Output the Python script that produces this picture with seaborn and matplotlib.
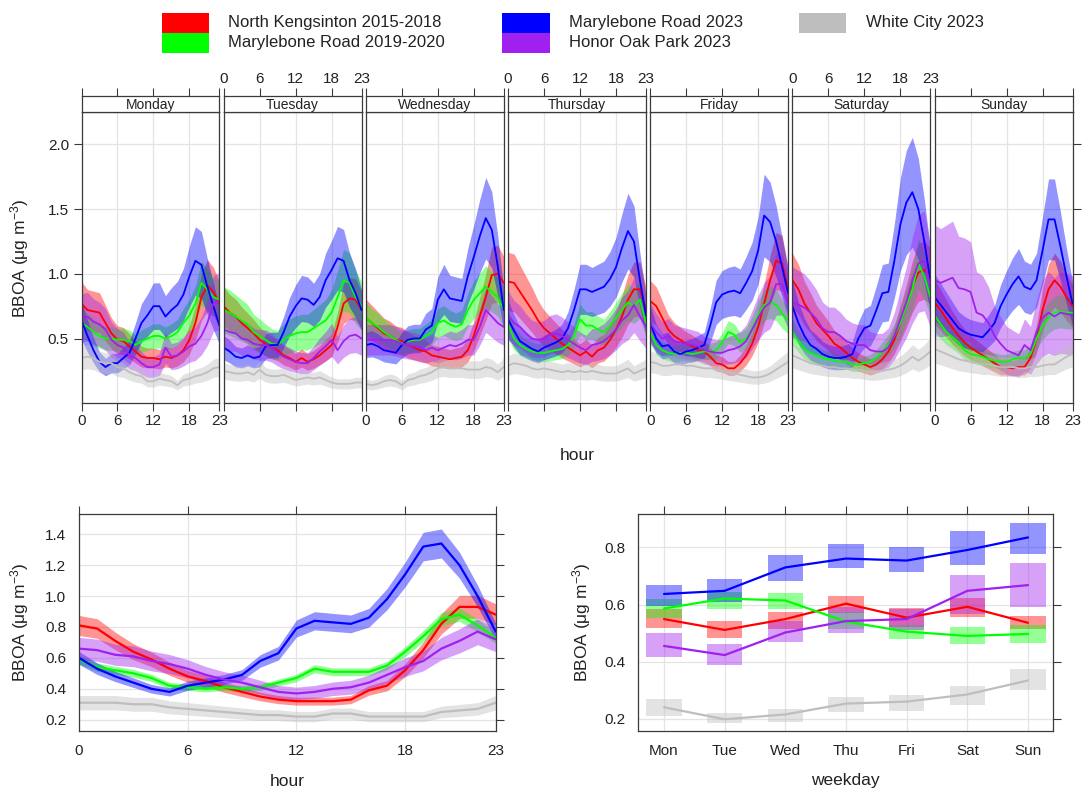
import numpy as np
import pandas as pd
import matplotlib
matplotlib.use("Agg")
import matplotlib.pyplot as plt
from matplotlib.patches import Rectangle
import seaborn as sns

# ---------------------------------------------------------------- data
sites = ["North Kengsinton 2015-2018", "Marylebone Road 2019-2020",
         "Marylebone Road 2023", "Honor Oak Park 2023", "White City 2023"]
colours = ["#FF0000", "#00FF00", "#0000FF", "#A020F0", "#BEBEBE"]
days = ["Monday", "Tuesday", "Wednesday", "Thursday", "Friday", "Saturday", "Sunday"]
day_abbr = ["Mon", "Tue", "Wed", "Thu", "Fri", "Sat", "Sun"]
hours = list(range(24))
hour_ticks = [0, 6, 12, 18, 23]

# hourly means for each weekday (Mon..Sun), BBOA ug m-3
nk_week = [
    [0.77, 0.72, 0.71, 0.70, 0.62, 0.54, 0.49, 0.48, 0.44, 0.40, 0.36, 0.35, 0.35, 0.34, 0.36, 0.35, 0.37, 0.41, 0.49, 0.62, 0.82, 0.91, 0.86, 0.77],
    [0.75, 0.70, 0.67, 0.62, 0.58, 0.54, 0.49, 0.46, 0.43, 0.41, 0.37, 0.35, 0.32, 0.35, 0.32, 0.34, 0.37, 0.41, 0.45, 0.59, 0.77, 0.81, 0.80, 0.72],
    [0.66, 0.62, 0.58, 0.54, 0.52, 0.49, 0.48, 0.45, 0.43, 0.41, 0.40, 0.37, 0.36, 0.35, 0.34, 0.35, 0.36, 0.41, 0.52, 0.67, 0.82, 0.99, 1.00, 0.93],
    [0.94, 0.93, 0.86, 0.79, 0.72, 0.64, 0.58, 0.54, 0.50, 0.46, 0.43, 0.40, 0.37, 0.40, 0.36, 0.41, 0.43, 0.49, 0.57, 0.67, 0.80, 0.88, 0.88, 0.72],
    [0.79, 0.75, 0.66, 0.57, 0.52, 0.49, 0.46, 0.44, 0.41, 0.40, 0.36, 0.31, 0.30, 0.27, 0.27, 0.31, 0.37, 0.46, 0.59, 0.77, 0.95, 1.10, 1.08, 0.88],
    [0.95, 0.88, 0.77, 0.70, 0.62, 0.57, 0.52, 0.46, 0.43, 0.39, 0.35, 0.32, 0.30, 0.28, 0.30, 0.34, 0.40, 0.49, 0.62, 0.75, 0.90, 1.01, 1.03, 0.98],
    [0.78, 0.72, 0.65, 0.58, 0.52, 0.47, 0.43, 0.40, 0.37, 0.34, 0.31, 0.28, 0.28, 0.27, 0.28, 0.28, 0.35, 0.50, 0.72, 0.88, 0.95, 0.90, 0.82, 0.75],
]
mr1920_week = [
    [0.62, 0.59, 0.55, 0.52, 0.50, 0.50, 0.49, 0.49, 0.48, 0.45, 0.48, 0.50, 0.52, 0.52, 0.50, 0.52, 0.55, 0.62, 0.68, 0.77, 0.93, 0.88, 0.82, 0.80],
    [0.72, 0.70, 0.67, 0.64, 0.61, 0.55, 0.52, 0.49, 0.46, 0.45, 0.49, 0.52, 0.54, 0.55, 0.55, 0.58, 0.61, 0.64, 0.70, 0.82, 0.95, 0.93, 0.82, 0.75],
    [0.66, 0.62, 0.59, 0.55, 0.52, 0.49, 0.46, 0.48, 0.49, 0.49, 0.52, 0.55, 0.62, 0.64, 0.61, 0.59, 0.61, 0.72, 0.80, 0.85, 0.90, 0.86, 0.82, 0.72],
    [0.61, 0.50, 0.45, 0.42, 0.40, 0.39, 0.39, 0.40, 0.41, 0.42, 0.45, 0.52, 0.65, 0.60, 0.60, 0.57, 0.55, 0.60, 0.66, 0.72, 0.78, 0.75, 0.80, 0.62],
    [0.55, 0.45, 0.41, 0.39, 0.38, 0.39, 0.39, 0.38, 0.39, 0.40, 0.40, 0.41, 0.47, 0.55, 0.53, 0.47, 0.50, 0.58, 0.68, 0.76, 0.78, 0.76, 0.69, 0.64],
    [0.55, 0.48, 0.42, 0.39, 0.37, 0.35, 0.34, 0.33, 0.32, 0.32, 0.30, 0.30, 0.31, 0.32, 0.35, 0.40, 0.45, 0.52, 0.62, 0.75, 0.88, 1.08, 0.98, 0.82],
    [0.68, 0.61, 0.55, 0.51, 0.47, 0.41, 0.38, 0.37, 0.36, 0.34, 0.33, 0.32, 0.32, 0.34, 0.35, 0.35, 0.38, 0.50, 0.60, 0.66, 0.70, 0.71, 0.70, 0.70],
]
mr23_week = [
    [0.64, 0.52, 0.41, 0.32, 0.28, 0.31, 0.31, 0.35, 0.39, 0.50, 0.62, 0.68, 0.75, 0.75, 0.67, 0.72, 0.76, 0.84, 0.98, 1.10, 1.07, 0.90, 0.75, 0.60],
    [0.43, 0.40, 0.36, 0.35, 0.37, 0.35, 0.36, 0.44, 0.45, 0.45, 0.55, 0.67, 0.75, 0.81, 0.80, 0.76, 0.82, 0.95, 1.03, 1.12, 1.10, 0.95, 0.85, 0.72],
    [0.45, 0.46, 0.44, 0.41, 0.40, 0.39, 0.45, 0.49, 0.50, 0.50, 0.57, 0.60, 0.80, 0.88, 0.81, 0.80, 0.79, 0.98, 1.13, 1.29, 1.43, 1.34, 1.06, 0.72],
    [0.65, 0.56, 0.48, 0.45, 0.42, 0.40, 0.43, 0.45, 0.47, 0.50, 0.58, 0.72, 0.88, 0.88, 0.86, 0.88, 0.90, 0.96, 1.05, 1.20, 1.33, 1.25, 0.95, 0.68],
    [0.62, 0.50, 0.44, 0.45, 0.40, 0.38, 0.40, 0.41, 0.43, 0.45, 0.60, 0.78, 0.84, 0.86, 0.87, 0.85, 0.93, 1.02, 1.18, 1.45, 1.40, 1.25, 1.05, 0.85],
    [0.75, 0.62, 0.52, 0.45, 0.42, 0.38, 0.36, 0.35, 0.35, 0.36, 0.38, 0.50, 0.58, 0.60, 0.72, 0.85, 0.86, 1.10, 1.38, 1.55, 1.63, 1.50, 1.25, 0.95],
    [0.82, 0.76, 0.70, 0.64, 0.58, 0.55, 0.53, 0.52, 0.51, 0.56, 0.62, 0.75, 0.84, 0.92, 0.98, 0.90, 0.88, 0.95, 1.18, 1.42, 1.42, 1.21, 0.98, 0.77],
]
hop_week = [
    [0.66, 0.67, 0.63, 0.61, 0.57, 0.49, 0.45, 0.43, 0.37, 0.35, 0.31, 0.28, 0.28, 0.30, 0.43, 0.36, 0.37, 0.40, 0.44, 0.46, 0.52, 0.62, 0.77, 0.79],
    [0.57, 0.55, 0.54, 0.50, 0.49, 0.46, 0.45, 0.45, 0.43, 0.39, 0.36, 0.34, 0.32, 0.31, 0.31, 0.35, 0.40, 0.44, 0.49, 0.41, 0.48, 0.52, 0.53, 0.50],
    [0.49, 0.49, 0.49, 0.49, 0.49, 0.48, 0.46, 0.45, 0.44, 0.43, 0.41, 0.43, 0.41, 0.43, 0.45, 0.44, 0.46, 0.49, 0.49, 0.59, 0.72, 0.67, 0.62, 0.59],
    [0.68, 0.62, 0.59, 0.54, 0.50, 0.49, 0.50, 0.53, 0.54, 0.52, 0.49, 0.46, 0.43, 0.41, 0.45, 0.46, 0.48, 0.52, 0.57, 0.64, 0.68, 0.76, 0.67, 0.59],
    [0.62, 0.55, 0.50, 0.52, 0.48, 0.47, 0.46, 0.45, 0.44, 0.41, 0.40, 0.39, 0.39, 0.41, 0.42, 0.44, 0.48, 0.57, 0.66, 0.74, 0.78, 0.92, 0.92, 0.78],
    [0.78, 0.76, 0.74, 0.70, 0.65, 0.58, 0.55, 0.55, 0.52, 0.48, 0.46, 0.45, 0.45, 0.41, 0.40, 0.40, 0.43, 0.52, 0.65, 0.78, 0.95, 1.08, 1.10, 0.90],
    [0.95, 0.93, 0.95, 0.97, 0.89, 0.88, 0.86, 0.70, 0.68, 0.62, 0.52, 0.46, 0.41, 0.39, 0.37, 0.45, 0.41, 0.55, 0.66, 0.70, 0.67, 0.70, 0.69, 0.68],
]
wc_week = [
    [0.35, 0.36, 0.35, 0.32, 0.31, 0.31, 0.28, 0.27, 0.24, 0.22, 0.21, 0.17, 0.17, 0.19, 0.18, 0.17, 0.14, 0.18, 0.19, 0.21, 0.22, 0.24, 0.27, 0.28],
    [0.25, 0.24, 0.23, 0.23, 0.24, 0.22, 0.26, 0.22, 0.21, 0.21, 0.22, 0.20, 0.18, 0.19, 0.20, 0.19, 0.20, 0.18, 0.16, 0.15, 0.15, 0.15, 0.16, 0.16],
    [0.15, 0.14, 0.15, 0.17, 0.18, 0.17, 0.14, 0.18, 0.19, 0.21, 0.22, 0.24, 0.27, 0.28, 0.27, 0.27, 0.27, 0.26, 0.26, 0.26, 0.28, 0.27, 0.24, 0.28],
    [0.29, 0.31, 0.30, 0.29, 0.27, 0.26, 0.27, 0.26, 0.25, 0.24, 0.25, 0.24, 0.25, 0.24, 0.25, 0.24, 0.23, 0.23, 0.23, 0.25, 0.27, 0.23, 0.25, 0.27],
    [0.32, 0.31, 0.29, 0.29, 0.30, 0.30, 0.29, 0.29, 0.28, 0.27, 0.27, 0.26, 0.25, 0.24, 0.23, 0.22, 0.21, 0.20, 0.20, 0.21, 0.23, 0.26, 0.29, 0.32],
    [0.37, 0.35, 0.33, 0.31, 0.30, 0.29, 0.28, 0.28, 0.27, 0.27, 0.26, 0.26, 0.25, 0.24, 0.24, 0.25, 0.26, 0.27, 0.29, 0.32, 0.36, 0.33, 0.36, 0.40],
    [0.42, 0.40, 0.38, 0.36, 0.34, 0.33, 0.32, 0.31, 0.30, 0.30, 0.29, 0.28, 0.28, 0.28, 0.27, 0.27, 0.28, 0.28, 0.29, 0.30, 0.30, 0.33, 0.36, 0.38],
]
# relative half-width of the 95% confidence band, per site and weekday
week_band_frac = [
    [0.22, 0.20, 0.22, 0.24, 0.20, 0.22, 0.22],
    [0.18, 0.25, 0.18, 0.18, 0.16, 0.18, 0.18],
    [0.24, 0.22, 0.22, 0.22, 0.22, 0.26, 0.22],
    [0.28, 0.26, 0.24, 0.28, 0.26, 0.35, 0.45],
    [0.26, 0.26, 0.26, 0.26, 0.26, 0.26, 0.26],
]

# mean diurnal profile (all days)
nk_hour = [0.81, 0.79, 0.71, 0.64, 0.59, 0.53, 0.48, 0.45, 0.41, 0.38, 0.35, 0.33, 0.32, 0.32, 0.32, 0.33, 0.39, 0.42, 0.52, 0.65, 0.82, 0.93, 0.93, 0.88]
mr1920_hour = [0.59, 0.54, 0.52, 0.50, 0.47, 0.42, 0.41, 0.40, 0.41, 0.40, 0.41, 0.44, 0.47, 0.53, 0.51, 0.51, 0.51, 0.55, 0.64, 0.74, 0.85, 0.88, 0.81, 0.73]
mr23_hour = [0.60, 0.53, 0.48, 0.44, 0.40, 0.38, 0.42, 0.44, 0.46, 0.49, 0.58, 0.63, 0.79, 0.84, 0.83, 0.82, 0.86, 0.98, 1.14, 1.32, 1.34, 1.20, 1.00, 0.77]
hop_hour = [0.66, 0.65, 0.62, 0.61, 0.58, 0.56, 0.53, 0.49, 0.46, 0.44, 0.41, 0.38, 0.37, 0.38, 0.40, 0.41, 0.44, 0.49, 0.54, 0.58, 0.66, 0.71, 0.77, 0.72]
wc_hour = [0.31, 0.31, 0.31, 0.30, 0.30, 0.28, 0.27, 0.26, 0.25, 0.24, 0.23, 0.23, 0.22, 0.22, 0.24, 0.24, 0.22, 0.22, 0.22, 0.22, 0.25, 0.26, 0.27, 0.31]
hour_band_frac = [0.08, 0.05, 0.07, 0.11, 0.15]

# weekday means with 95% confidence intervals
nk_day = [0.549, 0.511, 0.549, 0.603, 0.554, 0.592, 0.536]
nk_day_lo = [0.519, 0.484, 0.516, 0.569, 0.522, 0.557, 0.513]
nk_day_hi = [0.586, 0.541, 0.575, 0.630, 0.588, 0.624, 0.560]
mr1920_day = [0.586, 0.621, 0.614, 0.540, 0.505, 0.490, 0.497]
mr1920_day_lo = [0.554, 0.583, 0.586, 0.516, 0.480, 0.463, 0.466]
mr1920_day_hi = [0.621, 0.645, 0.641, 0.575, 0.528, 0.520, 0.528]
mr23_day = [0.637, 0.648, 0.730, 0.761, 0.754, 0.791, 0.835]
mr23_day_lo = [0.596, 0.610, 0.683, 0.728, 0.714, 0.738, 0.778]
mr23_day_hi = [0.670, 0.691, 0.772, 0.811, 0.800, 0.858, 0.884]
hop_day = [0.455, 0.423, 0.502, 0.542, 0.549, 0.648, 0.668]
hop_day_lo = [0.415, 0.389, 0.470, 0.502, 0.510, 0.567, 0.591]
hop_day_hi = [0.499, 0.463, 0.543, 0.592, 0.586, 0.703, 0.746]
wc_day = [0.240, 0.198, 0.215, 0.253, 0.260, 0.285, 0.334]
wc_day_lo = [0.209, 0.184, 0.190, 0.225, 0.228, 0.247, 0.300]
wc_day_hi = [0.268, 0.221, 0.234, 0.277, 0.283, 0.314, 0.373]

# ---------------------------------------------------------------- tables
week_sets = [nk_week, mr1920_week, mr23_week, hop_week, wc_week]
hour_sets = [nk_hour, mr1920_hour, mr23_hour, hop_hour, wc_hour]
day_sets = [(nk_day, nk_day_lo, nk_day_hi), (mr1920_day, mr1920_day_lo, mr1920_day_hi),
            (mr23_day, mr23_day_lo, mr23_day_hi), (hop_day, hop_day_lo, hop_day_hi),
            (wc_day, wc_day_lo, wc_day_hi)]

rows = []
for s, site in enumerate(sites):
    for d, day in enumerate(days):
        for h in hours:
            m = week_sets[s][d][h]
            f = week_band_frac[s][d]
            rows.append(dict(site=site, day=day, hour=h, value=m, lo=m * (1 - f), hi=m * (1 + f)))
week_df = pd.DataFrame(rows)

rows = []
for s, site in enumerate(sites):
    for h in hours:
        m = hour_sets[s][h]
        f = hour_band_frac[s]
        rows.append(dict(site=site, hour=h, value=m, lo=m * (1 - f), hi=m * (1 + f)))
hour_df = pd.DataFrame(rows)

rows = []
for s, site in enumerate(sites):
    mean, lo, hi = day_sets[s]
    for d in range(7):
        rows.append(dict(site=site, weekday=d, value=mean[d], lo=lo[d], hi=hi[d]))
day_df = pd.DataFrame(rows)

# ---------------------------------------------------------------- style
sns.set_theme(style="white")
plt.rcParams["font.family"] = ["Liberation Sans", "DejaVu Sans"]
plt.rcParams["mathtext.default"] = "regular"
plt.rcParams["axes.edgecolor"] = "#3A3A3A"
plt.rcParams["axes.linewidth"] = 0.9

W, H = 1082, 791
fig = plt.figure(figsize=(W / 100, H / 100), dpi=100)
fig.patch.set_facecolor("white")


def box(x0, y0, x1, y1):
    return [x0 / W, 1 - y1 / H, (x1 - x0) / W, (y1 - y0) / H]


GRID = "#E4E4E4"
TICK = dict(direction="out", length=5.5, width=0.8, color="#3A3A3A", labelsize=11,
            labelcolor="#222222")
ALPHA = 0.42
ylab = "BBOA (μg m$^{-3}$)"

# ---------------------------------------------------------------- top: hour x weekday
left0, right0, gap = 81.5, 1072.5, 4.3
pw = (right0 - left0 - 6 * gap) / 7
top_y0, top_y1, strip_y0 = 112.3, 403.3, 96.0

for d, day in enumerate(days):
    x0 = left0 + d * (pw + gap)
    ax = fig.add_axes(box(x0, top_y0, x0 + pw, top_y1))
    sub = week_df[week_df.day == day]
    for s, site in enumerate(sites):
        ss = sub[sub.site == site]
        ax.fill_between(ss.hour, ss.lo, ss.hi, color=colours[s], alpha=ALPHA, lw=0)
        sns.lineplot(data=ss, x="hour", y="value", color=colours[s], lw=1.3, ax=ax,
                     legend=False, errorbar=None)
    ax.set_xlim(0, 23)
    ax.set_ylim(0.0, 2.247)
    ax.set_xticks(hour_ticks)
    ax.set_yticks([0.5, 1.0, 1.5, 2.0])
    ax.set_yticklabels(["0.5", "1.0", "1.5", "2.0"])
    ax.grid(True, color=GRID, lw=0.9)
    ax.set_axisbelow(True)
    ax.set_xlabel("")
    ax.set_ylabel("")
    ax.tick_params(**TICK)
    ax.tick_params(axis="x", top=False, bottom=True, labelbottom=(d % 2 == 0), pad=2)
    ax.tick_params(axis="y", left=(d == 0), labelleft=(d == 0), right=(d == 6),
                   labelright=False)

    strip = fig.add_axes(box(x0, strip_y0, x0 + pw, top_y0))
    strip.set_xlim(0, 23)
    strip.set_xticks(hour_ticks)
    strip.set_yticks([])
    strip.tick_params(**TICK)
    strip.tick_params(axis="x", top=True, bottom=False, labeltop=(d % 2 == 1),
                      labelbottom=False, pad=2)
    strip.text(0.5, 0.45, day, transform=strip.transAxes, ha="center", va="center",
               fontsize=10, color="#222222")

fig.text((left0 + right0) / 2 / W, 1 - 455 / H, "hour", ha="center", va="center",
         fontsize=12.5, color="#222222")
fig.text(20 / W, 1 - 258 / H, ylab, rotation=90, ha="center", va="center",
         fontsize=12.5, color="#222222")

# ---------------------------------------------------------------- bottom left: hour
axh = fig.add_axes(box(79, 514.3, 495.7, 731))
for s, site in enumerate(sites):
    ss = hour_df[hour_df.site == site]
    axh.fill_between(ss.hour, ss.lo, ss.hi, color=colours[s], alpha=ALPHA, lw=0)
    sns.lineplot(data=ss, x="hour", y="value", color=colours[s], lw=1.6, ax=axh,
                 legend=False, errorbar=None)
axh.set_xlim(0, 23)
axh.set_ylim(0.127, 1.529)
axh.set_xticks(hour_ticks)
axh.set_yticks([0.2, 0.4, 0.6, 0.8, 1.0, 1.2, 1.4])
axh.set_yticklabels(["0.2", "0.4", "0.6", "0.8", "1.0", "1.2", "1.4"])
axh.grid(True, color=GRID, lw=0.9)
axh.set_axisbelow(True)
axh.set_xlabel("")
axh.set_ylabel("")
axh.tick_params(**TICK)
axh.tick_params(axis="x", top=True, labeltop=False, pad=4)
axh.tick_params(axis="y", right=True, labelright=False)
fig.text(287 / W, 1 - 781 / H, "hour", ha="center", va="center", fontsize=12.5,
         color="#222222")
fig.text(20 / W, 1 - 622 / H, ylab, rotation=90, ha="center", va="center",
         fontsize=12.5, color="#222222")

# ---------------------------------------------------------------- bottom right: weekday
axd = fig.add_axes(box(638.3, 514.3, 1052.7, 731))
for s, site in enumerate(sites):
    ss = day_df[day_df.site == site]
    axd.bar(ss.weekday, ss.hi - ss.lo, bottom=ss.lo, width=0.58, color=colours[s],
            alpha=ALPHA, lw=0)
    sns.lineplot(data=ss, x="weekday", y="value", color=colours[s], lw=1.6, ax=axd,
                 legend=False, errorbar=None)
axd.set_xlim(-0.424, 6.407)
axd.set_ylim(0.157, 0.916)
axd.set_xticks(range(7))
axd.set_xticklabels(day_abbr)
axd.set_yticks([0.2, 0.4, 0.6, 0.8])
axd.set_yticklabels(["0.2", "0.4", "0.6", "0.8"])
axd.grid(True, color=GRID, lw=0.9)
axd.set_axisbelow(True)
axd.set_xlabel("")
axd.set_ylabel("")
axd.tick_params(**TICK)
axd.tick_params(axis="x", top=True, labeltop=False, pad=4)
axd.tick_params(axis="y", right=True, labelright=False)
fig.text(845 / W, 1 - 781 / H, "weekday", ha="center", va="center", fontsize=12.5,
         color="#222222")
fig.text(582 / W, 1 - 622 / H, ylab, rotation=90, ha="center", va="center",
         fontsize=12.5, color="#222222")

# ---------------------------------------------------------------- key
key_pos = [(161.7, 12.7, 228.3), (161.7, 32.7, 228.3), (502.3, 12.7, 569.0),
           (502.3, 32.7, 569.0), (799.0, 12.7, 865.7)]
for (kx, ky, tx), site, col in zip(key_pos, sites, colours):
    fig.add_artist(Rectangle((kx / W, 1 - (ky + 20) / H), 47.3 / W, 20 / H,
                             transform=fig.transFigure, facecolor=col, edgecolor="none"))
    fig.text(tx / W, 1 - (ky + 10) / H, site, ha="left", va="center", fontsize=12,
             color="#222222")

fig.savefig("out.png", dpi=100, facecolor="white")
